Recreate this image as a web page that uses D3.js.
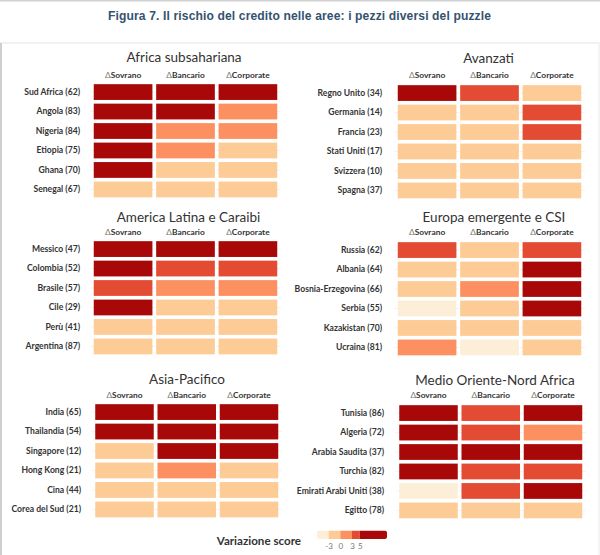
<!DOCTYPE html>
<html><head><meta charset="utf-8">
<script src="https://cdnjs.cloudflare.com/ajax/libs/d3/7.8.5/d3.min.js"></script>
<style>
html,body{margin:0;padding:0;background:#fff}
svg{display:block}
text{font-family:Lato,"Noto Sans",sans-serif}
</style></head><body>
<svg id="c" width="600" height="555"></svg>
<script>
const titleText = "Figura 7. Il rischio del credito nelle aree: i pezzi diversi del puzzle";
const measures = ["Sovrano","Bancario","Corporate"];

const africaNames = ["Sud Africa (62)","Angola (83)","Nigeria (84)","Etiopia (75)","Ghana (70)","Senegal (67)"];
const africaValues = [[7,7,7],[7,7,1.5],[7,1.5,1.5],[7,1.5,-1],[7,-1,-1],[-1,-1,-1]];
const advancedNames = ["Regno Unito (34)","Germania (14)","Francia (23)","Stati Uniti (17)","Svizzera (10)","Spagna (37)"];
const advancedValues = [[7,4,-1],[-1,-1,4],[-1,-1,4],[-1,-1,-1],[-1,-1,-1],[-1,-1,-1]];
const latamNames = ["Messico (47)","Colombia (52)","Brasile (57)","Cile (29)","Perù (41)","Argentina (87)"];
const latamValues = [[7,7,7],[7,4,4],[4,1.5,1.5],[7,-1,-1],[-1,-1,-1],[-1,-1,-1]];
const emergingNames = ["Russia (62)","Albania (64)","Bosnia-Erzegovina (66)","Serbia (55)","Kazakistan (70)","Ucraina (81)"];
const emergingValues = [[4,-1,4],[-1,-1,7],[-1,1.5,7],[-4,-1,7],[-1,-1,-1],[1.5,-4,-1]];
const asiaNames = ["India (65)","Thailandia (54)","Singapore (12)","Hong Kong (21)","Cina (44)","Corea del Sud (21)"];
const asiaValues = [[7,7,7],[7,7,7],[-1,7,7],[-1,1.5,-1],[-1,-1,-1],[-1,-1,-1]];
const menaNames = ["Tunisia (86)","Algeria (72)","Arabia Saudita (37)","Turchia (82)","Emirati Arabi Uniti (38)","Egitto (78)"];
const menaValues = [[7,4,7],[7,4,1.5],[7,7,7],[7,4,4],[-4,4,7],[-1,-1,-1]];

const panelTitles = ["Africa subsahariana","Avanzati","America Latina e Caraibi","Europa emergente e CSI","Asia-Pacifico","Medio Oriente-Nord Africa"];
const panelNames = [africaNames,advancedNames,latamNames,emergingNames,asiaNames,menaNames];
const panelValues = [africaValues,advancedValues,latamValues,emergingValues,asiaValues,menaValues];

const legendTicks = [-3,0,3,5];
const legendDomain = [-6,12];
const colorBreaks = [-3,0,3,5];
const colorRange = ["#fdeed8","#fdcb95","#fd9060","#e34b33","#a80808"];

const layout = [
  {x0:93,x1:278,y0:83,y1:198.5,tx:184,ty:62,hy:77.5,lx:80},
  {x0:397,x1:582,y0:84,y1:199.5,tx:488.5,ty:63,hy:77.5,lx:382},
  {x0:93,x1:278,y0:240,y1:355.5,tx:188.5,ty:222,hy:235,lx:80},
  {x0:397,x1:582,y0:241,y1:356.5,tx:494,ty:222,hy:235,lx:382},
  {x0:94.5,x1:279,y0:403,y1:518.5,tx:187,ty:384,hy:398,lx:81},
  {x0:398.5,x1:583,y0:404,y1:519.5,tx:495,ty:385,hy:398,lx:384}
];

const svg = d3.select("#c");
const color = d3.scaleThreshold().domain(colorBreaks).range(colorRange);

// page furniture
svg.append("rect").attr("x",0).attr("y",0).attr("width",600).attr("height",1.5).attr("fill","#d2d2d2");
svg.append("rect").attr("x",0).attr("y",42).attr("width",600).attr("height",2).attr("fill","#f1f1f1");
svg.append("rect").attr("x",0).attr("y",43).attr("width",2).attr("height",512).attr("fill","#cfcfcf");
svg.append("rect").attr("x",598).attr("y",43).attr("width",2).attr("height",512).attr("fill","#f4f4f4");

svg.append("text").attr("x",299.5).attr("y",20).attr("text-anchor","middle")
  .style("font-family","'Liberation Sans',Arial,sans-serif").style("font-weight",700)
  .style("font-size","12.1px").attr("fill","#34536f").attr("textLength",383).text(titleText);

panelTitles.forEach((title,i)=>{
  const L = layout[i];
  const g = svg.append("g");
  const x = d3.scaleBand().domain(measures).range([L.x0,L.x1]).paddingInner(0.06).paddingOuter(0.012);
  const y = d3.scaleBand().domain(panelNames[i]).range([L.y0,L.y1]).paddingInner(0.19).paddingOuter(0.06);

  g.append("text").attr("x",L.tx).attr("y",L.ty).attr("text-anchor","middle")
    .attr("fill","#333").style("font-size","13.5px").text(title);

  // faint row guides
  g.append("g").selectAll("line").data(panelNames[i]).join("line")
    .attr("x1",L.x0-3).attr("x2",L.x1+3)
    .attr("y1",d=>y(d)+y.bandwidth()/2).attr("y2",d=>y(d)+y.bandwidth()/2)
    .attr("stroke","#f3f3f3");

  const ax = g.append("g").attr("transform",`translate(0,${L.hy})`)
    .call(d3.axisTop(x).tickSize(0).tickPadding(0).tickFormat(()=>""));
  ax.select(".domain").remove();
  const axT = ax.selectAll(".tick text").attr("fill","#333").style("font-size","8.4px").style("font-weight",700);
  axT.append("tspan").attr("fill","#777").style("font-weight",400).text("\u0394");
  axT.append("tspan").text(d=>d);

  const ay = g.append("g").attr("transform",`translate(${L.lx},0)`)
    .call(d3.axisLeft(y).tickSize(0).tickPadding(0));
  ay.select(".domain").remove();
  ay.selectAll(".tick text").attr("fill","#333").style("font-size","8.6px").style("font-weight",700);

  const cells = panelNames[i].flatMap((n,r)=>measures.map((m,c)=>({n,m,v:panelValues[i][r][c]})));
  g.append("g").selectAll("rect").data(cells).join("rect")
    .attr("x",d=>x(d.m)).attr("y",d=>y(d.n))
    .attr("width",x.bandwidth()).attr("height",y.bandwidth())
    .attr("fill",d=>color(d.v));
});

// legend
const lx = d3.scaleLinear().domain(legendDomain).range([317,387]);
const edges = [legendDomain[0],...colorBreaks,legendDomain[1]];
const lg = svg.append("g");
lg.append("clipPath").attr("id","lc").append("rect").attr("x",317).attr("y",530.5).attr("width",70).attr("height",8.5).attr("rx",2.5);
lg.append("g").attr("clip-path","url(#lc)").selectAll("rect").data(d3.pairs(edges)).join("rect")
  .attr("x",d=>lx(d[0])).attr("y",530.5).attr("width",d=>lx(d[1])-lx(d[0])).attr("height",8.5)
  .attr("fill",d=>color((d[0]+d[1])/2));
const lax = lg.append("g").attr("transform","translate(0,540)")
  .call(d3.axisBottom(lx).tickValues(legendTicks).tickSize(0).tickPadding(3).tickFormat(d=>String(d)));
lax.select(".domain").remove();
lax.selectAll("text").attr("fill","#777").style("font-size","8px");
svg.append("text").attr("x",301).attr("y",545).attr("text-anchor","end").attr("fill","#333")
  .style("font-size","11.6px").style("font-weight",700).text("Variazione score");
</script>
</body></html>
